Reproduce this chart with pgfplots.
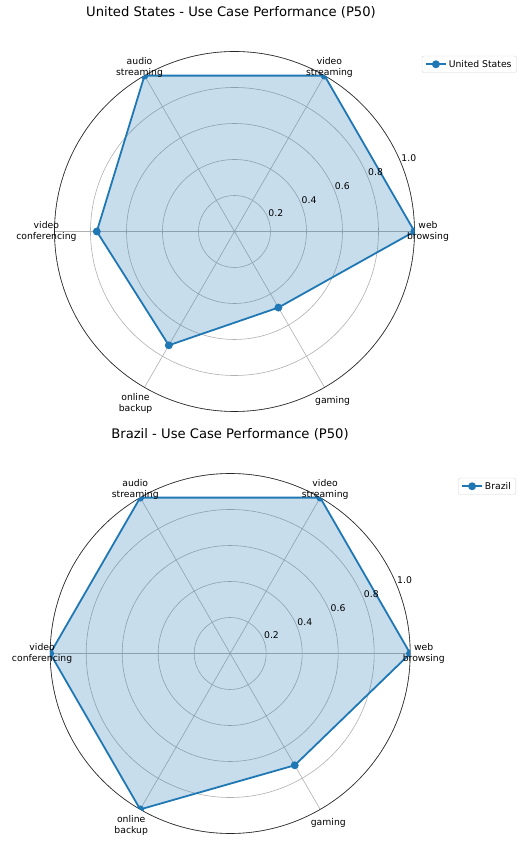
\documentclass[border=0pt]{standalone}
\usepackage{fontspec}
\setmainfont{DejaVu Sans}
\usepackage{pgfplots}
\pgfplotsset{compat=1.18}
\usepgfplotslibrary{polar}
\definecolor{tabblue}{HTML}{1F77B4}
\definecolor{gridgray}{HTML}{B0B0B0}
\definecolor{legedge}{HTML}{D6D6D6}
\newcommand{\lblfont}{\fontsize{9.3}{11}\selectfont}
\pgfplotsset{radar/.style={
  scale only axis, width=360bp, height=360bp,
  anchor=center,
  xmin=0, xmax=360, ymin=0, ymax=1,
  xtick={0,60,...,300}, xticklabels={},
  ytick={0.2,0.4,0.6,0.8,1.0}, yticklabels={},
  major tick length=0pt,
  grid=major,
  major grid style={gridgray, line width=0.6bp},
  axis line style={black!85, line width=0.6bp},
  y axis line style={draw=none},
  clip mode=individual,
  clip marker paths=true,
  legend cell align=left,
  legend style={draw=legedge, rounded corners=2bp, font=\lblfont,
    inner xsep=3bp, inner ysep=2bp, anchor=north east},
  legend image code/.code={\draw[mark repeat=2,mark phase=2,#1] plot coordinates {(0bp,0bp)(10bp,0bp)(20bp,0bp)};},
}}
\newcommand{\thetalabels}{%
  \node[align=center, font=\lblfont] at (axis cs:0,1.075) {web\\browsing};
  \node[align=center, font=\lblfont] at (axis cs:60,1.055) {video\\streaming};
  \node[align=center, font=\lblfont] at (axis cs:120,1.055) {audio\\streaming};
  \node[align=center, font=\lblfont] at (axis cs:180,1.045) {video\\conferencing};
  \node[align=center, font=\lblfont] at (axis cs:240,1.10) {online\\backup};
  \node[align=center, font=\lblfont] at (axis cs:300,1.09) {gaming};
  \node[anchor=south west, inner sep=0.5bp, font=\lblfont] at (axis cs:22.5,0.2) {0.2};
  \node[anchor=south west, inner sep=0.5bp, font=\lblfont] at (axis cs:22.5,0.4) {0.4};
  \node[anchor=south west, inner sep=0.5bp, font=\lblfont] at (axis cs:22.5,0.6) {0.6};
  \node[anchor=south west, inner sep=0.5bp, font=\lblfont] at (axis cs:22.5,0.8) {0.8};
  \node[anchor=south west, inner sep=0.5bp, font=\lblfont] at (axis cs:22.5,1.0) {1.0};
}
\begin{document}
\begin{tikzpicture}
\path[use as bounding box] (0,0) rectangle (528bp,843bp);
\node[font=\fontsize{13.2}{16}\selectfont] at (231bp,830.5bp) {United States - Use Case Performance (P50)};
\node[font=\fontsize{13.2}{16}\selectfont] at (230bp,409bp) {Brazil - Use Case Performance (P50)};

\begin{polaraxis}[radar, at={(234.5bp,611.5bp)},
  legend style={at={(1.284,0.988)}}]
\addplot[fill=tabblue, fill opacity=0.25, draw=none, forget plot]
  coordinates {(0,1.0) (60,1.0) (120,1.0) (180,0.765) (240,0.73) (300,0.488) (360,1.0)} -- cycle;
\addplot[tabblue, line width=1.8bp, mark=*, mark size=3bp, mark options={solid}]
  coordinates {(0,1.0) (60,1.0) (120,1.0) (180,0.765) (240,0.73) (300,0.488) (360,1.0)};
\addlegendentry{United States}
\thetalabels
\end{polaraxis}

\begin{polaraxis}[radar, at={(230.2bp,189.5bp)},
  legend style={at={(1.294,0.988)}}]
\addplot[fill=tabblue, fill opacity=0.25, draw=none, forget plot]
  coordinates {(0,1.0) (60,1.0) (120,1.0) (180,1.0) (240,1.0) (300,0.717) (360,1.0)} -- cycle;
\addplot[tabblue, line width=1.8bp, mark=*, mark size=3bp, mark options={solid}]
  coordinates {(0,1.0) (60,1.0) (120,1.0) (180,1.0) (240,1.0) (300,0.717) (360,1.0)};
\addlegendentry{Brazil}
\thetalabels
\end{polaraxis}
\end{tikzpicture}
\end{document}
